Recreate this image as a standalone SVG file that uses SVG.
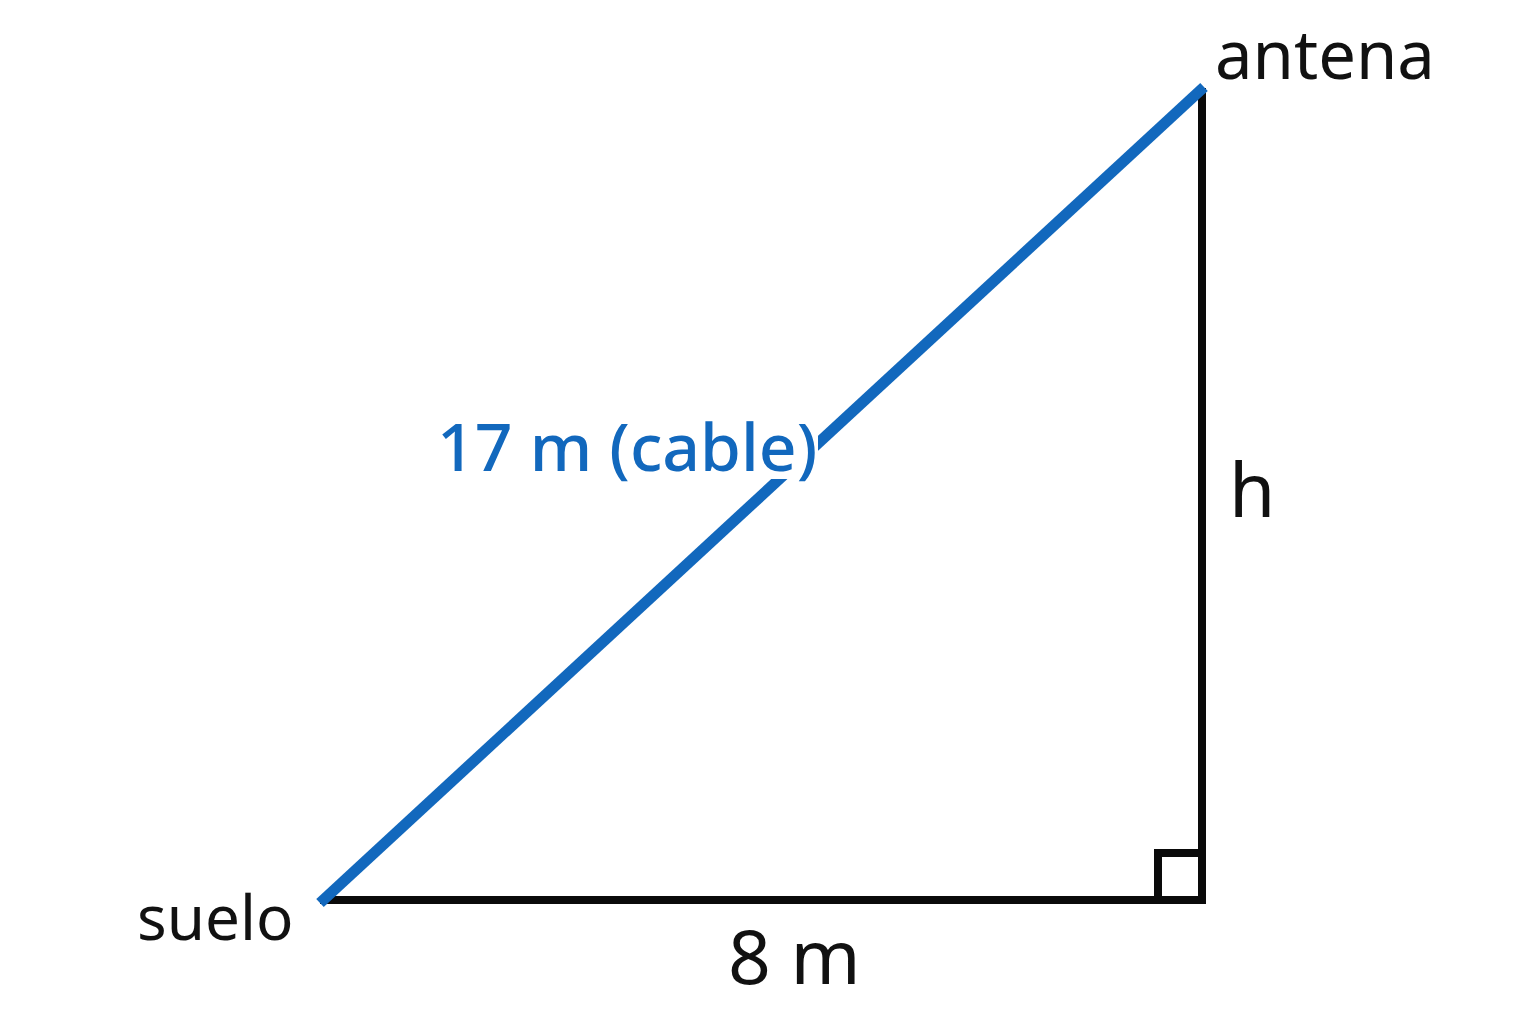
<svg xmlns="http://www.w3.org/2000/svg" width="1536" height="1024" viewBox="0 0 1536 1024">
<style>
.lbl{font-family:"Noto Sans","Open Sans","DejaVu Sans",sans-serif;fill:#111}
.blue{fill:#1268bd;font-weight:500}
.edge{stroke:#0a0a0a;stroke-width:8;fill:none;stroke-linecap:square}
</style>
<rect width="1536" height="1024" fill="#ffffff"/>
<g id="connectors">
<line class="edge" x1="324" y1="900" x2="1202" y2="900"/>
<line class="edge" x1="1202" y1="900" x2="1202" y2="92"/>
<polyline class="edge" points="1158,900 1158,853 1202,853" stroke-linecap="butt"/>
<line x1="320" y1="903" x2="1204" y2="87" stroke="#1268bd" stroke-width="11"/>
</g>
<g id="label-cable">
<rect x="432" y="405" width="386" height="74" fill="#ffffff"/>
<text class="lbl blue" x="437" y="471" font-size="66">17 m (cable)</text>
</g>
<g id="node-antena"><text class="lbl" x="1215" y="79" font-size="67">antena</text></g>
<g id="node-suelo"><text class="lbl" x="137" y="940" font-size="62">suelo</text></g>
<g id="label-h"><text class="lbl" x="1229" y="517" font-size="75">h</text></g>
<g id="label-base"><text class="lbl" x="728" y="984" font-size="75">8 m</text></g>
</svg>
